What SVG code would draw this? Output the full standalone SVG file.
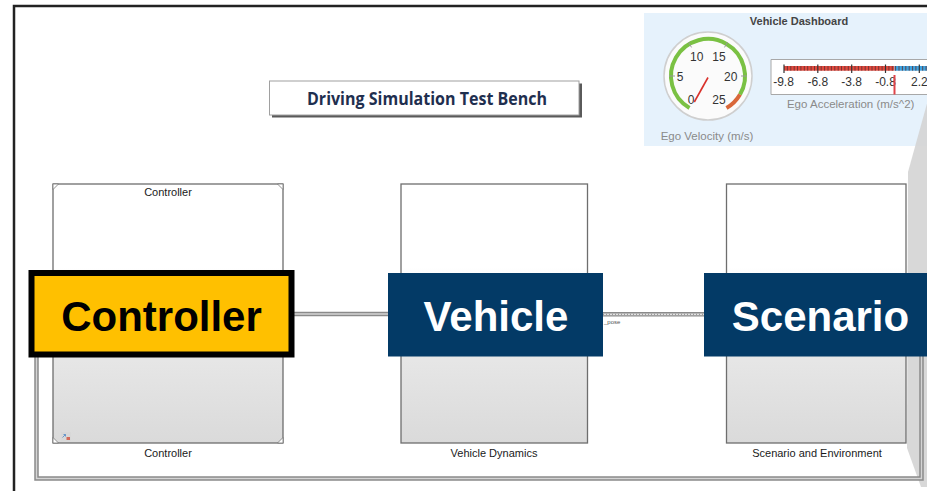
<svg xmlns="http://www.w3.org/2000/svg" width="927" height="491" viewBox="0 0 927 491">
<style>
  .lbl{font-family:"Liberation Sans",Arial,sans-serif;font-size:11px;fill:#1a1a1a;text-anchor:middle}
  .blk{stroke:#6e6e6e;stroke-width:1.3;fill:url(#blkGrad)}
  .big{font-family:"Liberation Sans",Arial,sans-serif;font-weight:bold;font-size:42px;text-anchor:middle}
  .navy{fill:#033a66}
  .gl{font-family:"Liberation Sans",Arial,sans-serif;font-size:12px;fill:#333;text-anchor:middle}
  .gray{font-family:"Liberation Sans",Arial,sans-serif;font-size:11.5px;fill:#8a8a8a;text-anchor:middle}
  .wireO{fill:none;stroke:#8a8a8a;stroke-width:4.5}
  .wireI{fill:none;stroke:#d4d4d4;stroke-width:1.5}
  .corner{fill:#fff;stroke:#777;stroke-width:0.8}
</style>
<defs>
  <linearGradient id="blkGrad" x1="0" y1="0" x2="0" y2="1">
    <stop offset="0" stop-color="#ffffff"/>
    <stop offset="0.32" stop-color="#ffffff"/>
    <stop offset="0.6" stop-color="#e9e9e9"/>
    <stop offset="1" stop-color="#dadada"/>
  </linearGradient>
</defs>
<rect x="0" y="0" width="927" height="491" fill="#ffffff"/>

<!-- frame -->
<path d="M14,491 V6 H927" fill="none" stroke="#222" stroke-width="2.5"/>

<!-- dashboard -->
<g id="dashboard">
  <rect x="644" y="13" width="283" height="133" fill="#e6f2fc"/>
  <text x="799" y="24.5" font-family="Liberation Sans, Arial, sans-serif" font-size="11" font-weight="bold" fill="#444" text-anchor="middle">Vehicle Dashboard</text>
  <!-- velocity gauge -->
  <circle cx="708" cy="76" r="44" fill="#fbfbfb" stroke="#cfcfcf" stroke-width="1.5"/>
  <path d="M689.5,108.0 A37,37 0 1 1 740.0,94.5" fill="none" stroke="#7ac143" stroke-width="4"/>
  <path d="M740.0,94.5 A37,37 0 0 1 726.5,108.0" fill="none" stroke="#d9683a" stroke-width="4"/>
  <g stroke="#999" stroke-width="1">
    <line x1="669" y1="76" x2="675" y2="76"/>
    <line x1="741" y1="76" x2="747" y2="76"/>
    <line x1="688.5" y1="42.2" x2="691.5" y2="47.4"/>
    <line x1="727.5" y1="42.2" x2="724.5" y2="47.4"/>
  </g>
  <text class="gl" x="696.7" y="61">10</text>
  <text class="gl" x="719" y="61">15</text>
  <text class="gl" x="680" y="80.5">5</text>
  <text class="gl" x="730.7" y="80.5">20</text>
  <text class="gl" x="691" y="104">0</text>
  <text class="gl" x="719" y="104">25</text>
  <line x1="708" y1="77.5" x2="694.3" y2="102" stroke="#d9312b" stroke-width="1.6"/>
  <text class="gray" x="707" y="140">Ego Velocity (m/s)</text>
  <!-- acceleration bar -->
  <path d="M940,59.5 H771 V94.5 H940" fill="#fff" stroke="#a8a8a8" stroke-width="1"/>
  <rect x="784" y="66" width="110.5" height="4.7" fill="#e0493e"/>
  <rect x="894.5" y="66" width="40" height="4.7" fill="#3fa3e0"/>
  <path id="minor" d="M787.4,66v4.7M790.8,66v4.7M794.2,66v4.7M797.5,66v4.7M800.9,66v4.7M804.3,66v4.7M807.7,66v4.7M811.1,66v4.7M814.5,66v4.7M821.2,66v4.7M824.6,66v4.7M828,66v4.7M831.4,66v4.7M834.8,66v4.7M838.2,66v4.7M841.5,66v4.7M844.9,66v4.7M848.3,66v4.7M855,66v4.7M858.4,66v4.7M861.8,66v4.7M865.2,66v4.7M868.6,66v4.7M872,66v4.7M875.3,66v4.7M878.7,66v4.7M882.1,66v4.7M888.9,66v4.7M892.3,66v4.7M895.6,66v4.7M899,66v4.7M902.4,66v4.7M905.8,66v4.7M909.2,66v4.7M912.6,66v4.7M915.9,66v4.7M922.7,66v4.7M926.1,66v4.7" stroke="#5a3030" stroke-width="0.8"/>
  <path d="M784,64.5v8.5M817.8,64.5v8.5M851.7,64.5v8.5M885.5,64.5v8.5M919.3,64.5v8.5" stroke="#333" stroke-width="1.2"/>
  <text class="gl" x="783.5" y="85.5">-9.8</text>
  <text class="gl" x="817.8" y="85.5">-6.8</text>
  <text class="gl" x="851.7" y="85.5">-3.8</text>
  <text class="gl" x="885.5" y="85.5">-0.8</text>
  <text class="gl" x="919.3" y="85.5">2.2</text>
  <line x1="894.5" y1="75" x2="894.5" y2="94.5" stroke="#e0454a" stroke-width="2"/>
  <text class="gray" x="850.7" y="107.5">Ego Acceleration (m/s^2)</text>
</g>

<!-- magnifier wedge -->
<polygon points="928,100 908,172 907,448 921,487 927,487" fill="#d4d4d4" fill-opacity="0.9"/>

<!-- title -->
<g id="title">
  <rect x="272" y="83.5" width="310" height="34" fill="#5a5a5a"/>
  <rect x="269.5" y="81" width="309.5" height="34" fill="#ffffff" stroke="#a0a0a0" stroke-width="1"/>
  <text x="427" y="105" font-family="Open Sans, Noto Sans, sans-serif" font-weight="bold" font-size="17.5" fill="#1f2f4f" text-anchor="middle" textLength="240" lengthAdjust="spacingAndGlyphs">Driving Simulation Test Bench</text>
</g>

<!-- connectors -->
<g id="connectors">
  <path class="wireO" d="M293,314 H388"/>
  <path class="wireI" d="M293,314 H388"/>
  <path class="wireO" d="M603,314.3 H705"/>
  <path d="M603,314.3 H705" fill="none" stroke="#e2e2e2" stroke-width="1.8"/>
  <path d="M603,314.3 H705" fill="none" stroke="#8a8a8a" stroke-width="1" stroke-dasharray="1 2"/>
  <text x="604" y="323.5" font-family="Liberation Sans, Arial, sans-serif" font-size="6" fill="#555">_pose</text>
  <path class="wireO" d="M900,314 H921.5 V478.5 H36.5 V314 H50"/>
  <path class="wireI" d="M900,314 H921.5 V478.5 H36.5 V314 H50"/>
</g>

<!-- Controller block -->
<g id="controller-block">
  <rect class="blk" x="53" y="184" width="230" height="259"/>
  <polygon class="corner" points="53,184 58.5,184 53,189.5"/>
  <polygon class="corner" points="283,184 277.5,184 283,189.5"/>
  <polygon class="corner" points="53,443 58.5,443 53,437.5"/>
  <polygon class="corner" points="283,443 277.5,443 283,437.5"/>
  <rect x="61" y="432" width="10" height="9" fill="#d8d8d8"/>
  <path d="M62.5,437.5 l3,-3 M65.5,434.5 h-2 M65.5,434.5 v2" stroke="#5a8fc8" stroke-width="0.9" fill="none"/>
  <rect x="66.5" y="437" width="3.5" height="3" fill="#d46a5a"/>
  <text class="lbl" x="168" y="195.5">Controller</text>
  <text class="lbl" x="168" y="456.5">Controller</text>
</g>

<!-- Vehicle block -->
<g id="vehicle-block">
  <rect class="blk" x="401" y="184" width="186.5" height="259"/>
  <text class="lbl" x="494" y="456.5">Vehicle Dynamics</text>
</g>

<!-- Scenario block -->
<g id="scenario-block">
  <rect class="blk" x="726.5" y="184" width="179.5" height="259"/>
  <text class="lbl" x="817" y="456.5">Scenario and Environment</text>
</g>

<!-- overlay labels -->
<g id="controller-label">
  <rect x="31.5" y="273" width="260" height="81.5" fill="#ffc000" stroke="#000" stroke-width="6"/>
  <text class="big" x="161.5" y="331" fill="#000">Controller</text>
</g>
<g id="vehicle-label">
  <rect class="navy" x="388" y="273" width="215" height="83.5"/>
  <text class="big" x="496" y="331" fill="#fff">Vehicle</text>
</g>
<g id="scenario-label">
  <rect class="navy" x="704" y="273" width="223" height="83.5"/>
  <text class="big" x="820.5" y="331" fill="#fff">Scenario</text>
</g>
</svg>
